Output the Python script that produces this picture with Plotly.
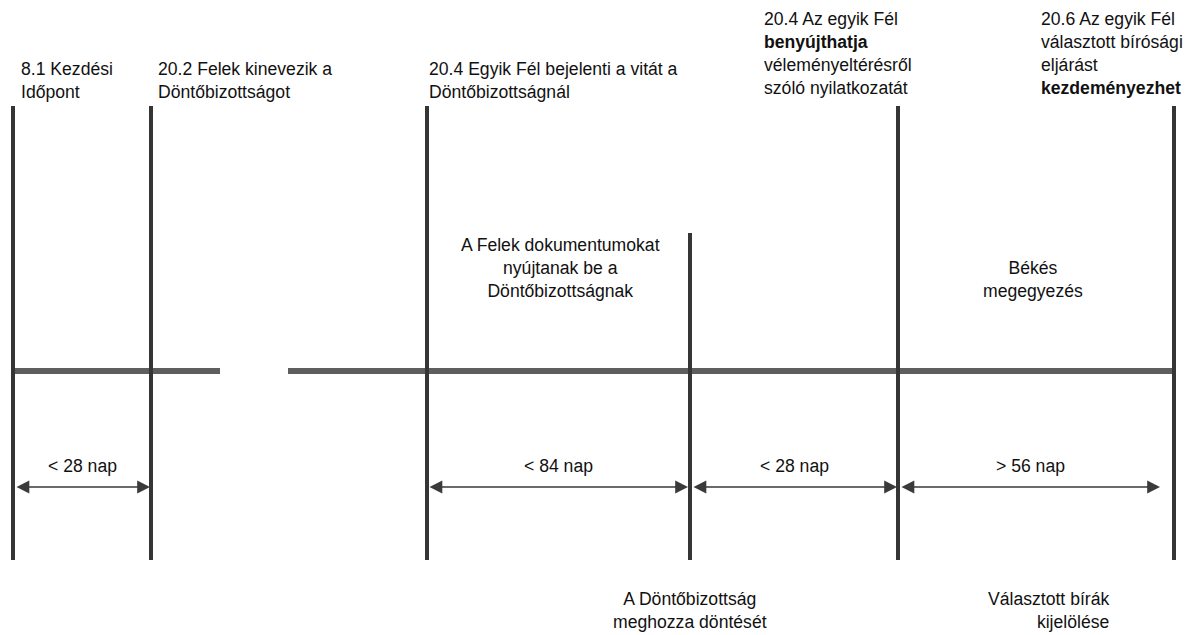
import plotly.graph_objects as go

# ---- data ----
event_pos = [13, 151, 427, 690, 898, 1174]          # timeline positions of the six events
event_labels = [
    "8.1 Kezdési<br>Időpont",
    "20.2 Felek kinevezik a<br>Döntőbizottságot",
    "20.4 Egyik Fél bejelenti a vitát a<br>Döntőbizottságnál",
    "",
    "20.4 Az egyik Fél<br><b>benyújthatja</b><br>véleményeltérésről<br>szóló nyilatkozatát",
    "20.6 Az egyik Fél<br>választott bírósági<br>eljárást<br><b>kezdeményezhet</b>",
]
interval_from = [0, 2, 3, 4]
interval_to = [1, 3, 4, 5]
interval_labels = ["< 28 nap", "< 84 nap", "< 28 nap", "> 56 nap"]
phase_labels = ["A Felek dokumentumokat<br>nyújtanak be a<br>Döntőbizottságnak", "Békés<br>megegyezés"]
bottom_labels = ["A Döntőbizottság<br>meghozza döntését", "Választott bírák<br>kijelölése"]

# ---- layout / positions ----
W, H = 1191, 635
FONT = "Liberation Sans, Arial, sans-serif"
FS = 17.6
line_top = [106, 106, 106, 233, 106, 106]
line_bottom = 560
axis_y = 371
axis_gap = (220, 288)
arrow_y = 487
arrow_ends = [(15, 150), (428, 688), (692, 897), (900, 1160)]
interval_label_y = 466
top_label_pos = [(19, 80), (156, 80), (427, 80), None, (762, 53), (1039, 53)]
phase_label_pos = [(560, 268, "center"), (1033, 279, "center")]
bottom_label_pos = [(690, 610, "center", "center"), (1111, 610, "right", "right")]

fig = go.Figure()
fig.add_trace(go.Scatter(x=[0, W], y=[0, H], mode="markers",
                         marker=dict(opacity=0), hoverinfo="skip", showlegend=False))

shapes = []
# event verticals
for xp, yt in zip(event_pos, line_top):
    shapes.append(dict(type="line", x0=xp, x1=xp, y0=yt, y1=line_bottom,
                       line=dict(color="#353535", width=4), layer="above"))
# main horizontal axis with break
shapes.append(dict(type="line", x0=event_pos[0], x1=axis_gap[0], y0=axis_y, y1=axis_y,
                   line=dict(color="#5e5e5e", width=6), layer="below"))
shapes.append(dict(type="line", x0=axis_gap[1], x1=event_pos[-1], y0=axis_y, y1=axis_y,
                   line=dict(color="#5e5e5e", width=6), layer="below"))

annotations = []
for lab, pos in zip(event_labels, top_label_pos):
    if pos is None or not lab:
        continue
    annotations.append(dict(x=pos[0], y=pos[1], text=lab, showarrow=False,
                            xanchor="left", yanchor="middle", align="left",
                            font=dict(family=FONT, size=FS, color="#111")))

for (x0, x1), lab in zip(arrow_ends, interval_labels):
    annotations.append(dict(x=x1, y=arrow_y, ax=x0, ay=arrow_y, axref="x", ayref="y",
                            xref="x", yref="y", text="", showarrow=True,
                            arrowhead=2, startarrowhead=2, arrowside="end+start",
                            arrowsize=1.6, startarrowsize=1.6, arrowwidth=1.6,
                            arrowcolor="#3a3a3a"))
    annotations.append(dict(x=(x0 + x1) / 2, y=interval_label_y, text=lab, showarrow=False,
                            xanchor="center", yanchor="middle",
                            font=dict(family=FONT, size=FS, color="#111")))

for lab, (xp, yp, al) in zip(phase_labels, phase_label_pos):
    annotations.append(dict(x=xp, y=yp, text=lab, showarrow=False, xanchor="center",
                            yanchor="middle", align=al,
                            font=dict(family=FONT, size=FS, color="#111")))

for lab, (xp, yp, xa, al) in zip(bottom_labels, bottom_label_pos):
    annotations.append(dict(x=xp, y=yp, text=lab, showarrow=False, xanchor=xa,
                            yanchor="middle", align=al,
                            font=dict(family=FONT, size=FS, color="#111")))

fig.update_layout(
    width=W, height=H, margin=dict(l=0, r=0, t=0, b=0),
    paper_bgcolor="white", plot_bgcolor="white",
    xaxis=dict(range=[0, W], visible=False, fixedrange=True),
    yaxis=dict(range=[H, 0], visible=False, fixedrange=True),
    shapes=shapes, annotations=annotations, showlegend=False,
)
fig.write_html("out.html", config={"displayModeBar": False},
               post_script="document.body.style.margin='0';document.body.style.overflow='hidden';")
